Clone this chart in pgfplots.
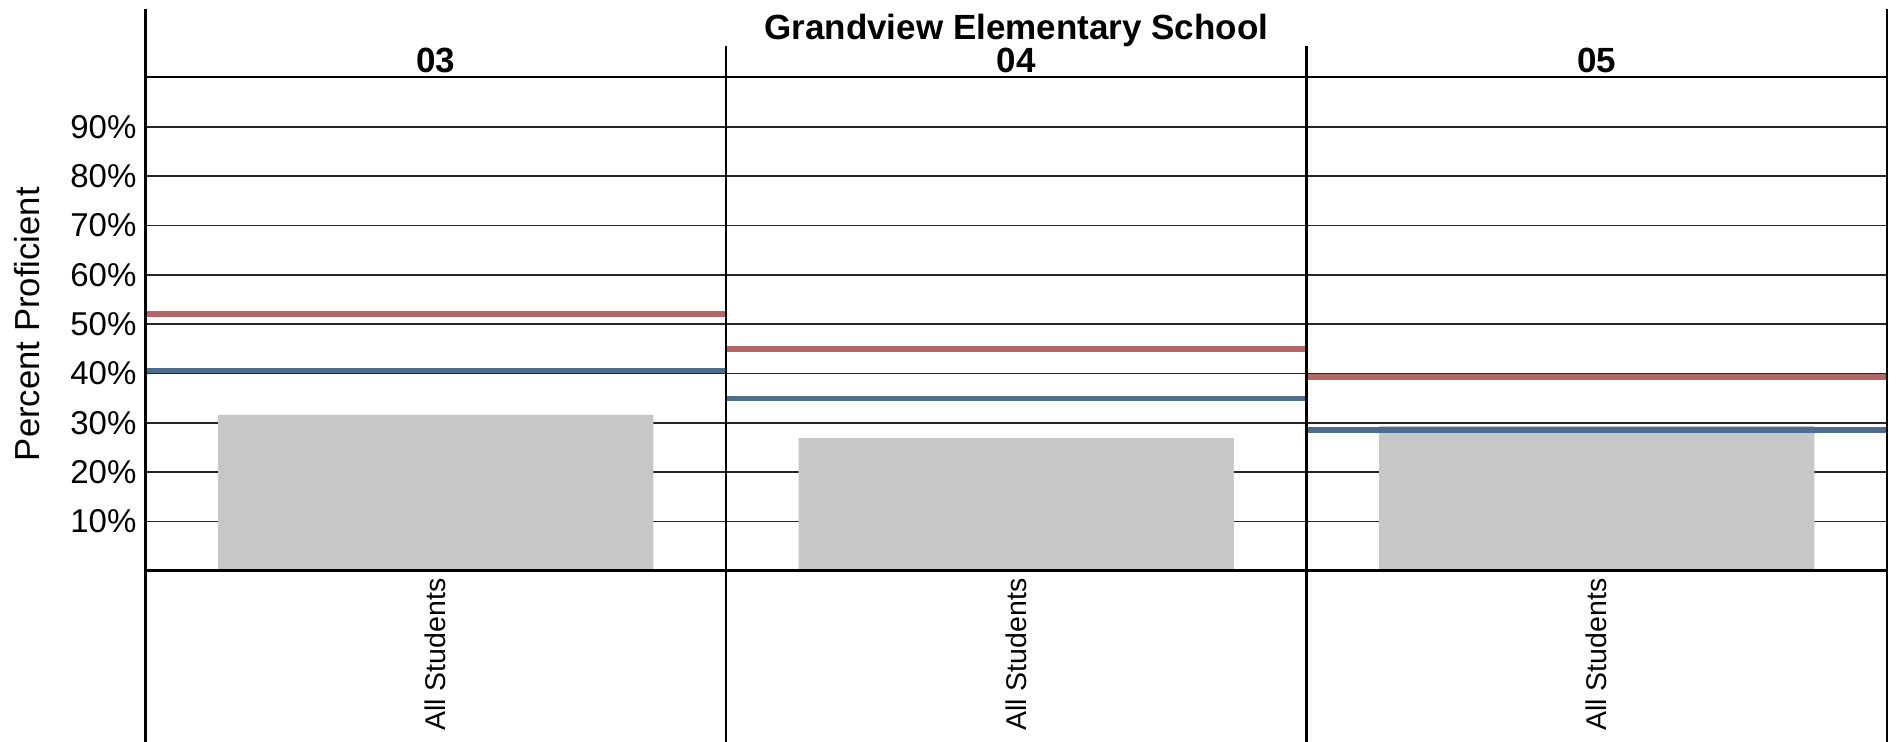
\documentclass[border=0pt]{standalone}
\usepackage{fontspec}
\setmainfont{Liberation Sans}
\usepackage{pgfplots}
\pgfplotsset{compat=1.18}
\definecolor{StateRed}{RGB}{181,101,101}
\definecolor{DistBlue}{RGB}{78,108,143}
\definecolor{BarGray}{RGB}{199,199,199}

\begin{document}
\begin{tikzpicture}
% page size: 1898x742 px at 0.5pt per px
\path[use as bounding box] (-72.75pt,-85.65pt) rectangle (876.25pt,285.35pt);
\begin{axis}[
    at={(0,0)}, anchor=south west,
    scale only axis, width=870.75pt, height=246.6pt,
    xmin=0, xmax=3, ymin=0, ymax=100,
    clip=false,
    axis line style={draw=none},
    tick style={draw=none},
    xtick={0.5,1.5,2.5},
    xticklabels={All Students,All Students,All Students},
    x tick label style={rotate=90, anchor=east, inner sep=0pt, font=\fontsize{14.25}{16}\selectfont},
    xticklabel shift=3.7pt,
    ytick={10,20,30,40,50,60,70,80,90},
    yticklabels={10\%,20\%,30\%,40\%,50\%,60\%,70\%,80\%,90\%},
    y tick label style={inner sep=0pt, font=\fontsize{16.5}{18}\selectfont},
    yticklabel shift=4.35pt,
    ymajorgrids, major grid style={black!85, line width=0.8pt},
    ylabel={Percent Proficient},
    ylabel style={at={(axis description cs:-0.0755,0.5)}, anchor=north, inner sep=0pt, font=\fontsize{17.35}{20}\selectfont},
]
% school bars
\addplot[ybar, bar width=0.75, bar shift=0pt, fill=BarGray, draw=none]
    coordinates {(0.5,31.6) (1.5,26.9) (2.5,29.3)};
% reference lines, one segment per grade
\addplot[StateRed, line width=2.75pt, mark=none, unbounded coords=jump]
    coordinates {(0,52.0) (1,52.0) (1,nan) (1,44.9) (2,44.9) (2,nan) (2,39.3) (3,39.3)};
\addplot[DistBlue, line width=2.75pt, mark=none, unbounded coords=jump]
    coordinates {(0,40.6) (1,40.6) (1,nan) (1,34.9) (2,34.9) (2,nan) (2,28.5) (3,28.5)};

% frame
\draw[line width=1.2pt] (axis cs:0,0) -- (axis cs:3,0);
\draw[line width=1pt] (axis cs:0,100) -- (axis cs:3,100);
\draw[line width=1.35pt] (axis cs:0,113.9) -- (axis cs:0,-35);
\draw[line width=1.35pt] (axis cs:1,106.4) -- (axis cs:1,-35);
\draw[line width=1.35pt] (axis cs:2,106.4) -- (axis cs:2,-35);
\draw[line width=1.35pt] (axis cs:3,113.9) -- (axis cs:3,-35);

% headers
\node[anchor=base, yshift=19.1pt, font=\bfseries\fontsize{17.5}{20}\selectfont]
    at (axis cs:1.5,100) {Grandview Elementary School};
\node[anchor=base, yshift=2.4pt, font=\bfseries\fontsize{17.5}{20}\selectfont] at (axis cs:0.5,100) {03};
\node[anchor=base, yshift=2.4pt, font=\bfseries\fontsize{17.5}{20}\selectfont] at (axis cs:1.5,100) {04};
\node[anchor=base, yshift=2.4pt, font=\bfseries\fontsize{17.5}{20}\selectfont] at (axis cs:2.5,100) {05};
\end{axis}
\end{tikzpicture}
\end{document}
